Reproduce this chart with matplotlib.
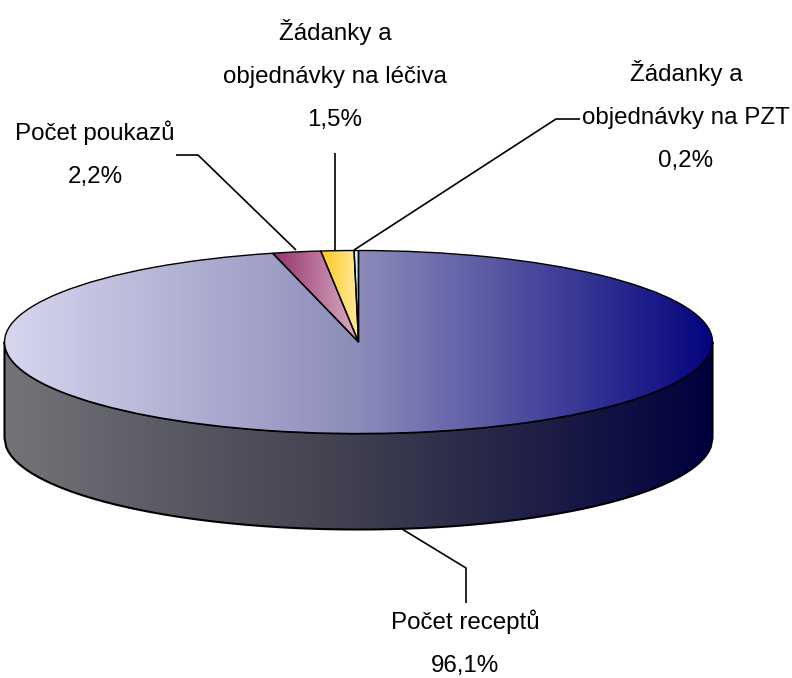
import numpy as np
import matplotlib
matplotlib.use("Agg")
import matplotlib.pyplot as plt
from matplotlib.colors import LinearSegmentedColormap
from matplotlib.patches import PathPatch
from matplotlib.path import Path

# Data
categories = ["Počet receptů", "Počet poukazů", "Žádanky a\nobjednávky na léčiva", "Žádanky a\nobjednávky na PZT"]
values = [96.1, 2.2, 1.5, 0.2]
gradients = [
    ["#D6D6EE", "#8C8CBA", "#04047F"],
    ["#96326A", "#D9B0C6"],
    ["#FFC81E", "#FFEBA0"],
    ["#D8FFFF", "#B0F0F8"],
]
side_gradient = ["#737378", "#3E3E4E", "#00003E"]

W, H = 792, 678
CX, CY, RX, RY, DEPTH = 358.5, 342.0, 354.0, 91.5, 96.0
FONT = ["Liberation Sans", "DejaVu Sans"]
FS = 17.4

fig = plt.figure(figsize=(W / 100, H / 100), dpi=100, facecolor="white")

# Pie axes: the unit circle is squashed into the perspective ellipse
ax = fig.add_axes([0, 0, 1, 1])
wedges, _ = ax.pie(values, startangle=90, counterclock=False, radius=1, center=(0, 0),
                   wedgeprops=dict(facecolor="none", edgecolor="black", linewidth=1.0, zorder=5))
ax.set_aspect("auto")
ax.set_xlim(-CX / RX, (W - CX) / RX)
ax.set_ylim((CY - H) / RY, CY / RY)
ax.axis("off")

def grad_fill(colors, x0, x1, y0, y1, clip, zorder):
    cmap = LinearSegmentedColormap.from_list("g", colors)
    im = ax.imshow(np.linspace(0, 1, 512)[None, :], cmap=cmap, extent=[x0, x1, y0, y1],
                   aspect="auto", interpolation="bilinear", zorder=zorder, origin="lower")
    im.set_clip_path(clip)
    return im

# Side wall
d = DEPTH / RY
xs = np.linspace(-1, 1, 400)
low = -np.sqrt(1 - xs ** 2)
verts = np.vstack([np.c_[xs, low], np.c_[xs[::-1], low[::-1] - d], [[xs[0], low[0]]]])
codes = [Path.MOVETO] + [Path.LINETO] * (len(verts) - 2) + [Path.CLOSEPOLY]
side = PathPatch(Path(verts, codes), facecolor="none", edgecolor="black", linewidth=1.5, zorder=3, joinstyle="round")
ax.add_patch(side)
grad_fill(side_gradient, -1, 1, -1 - d, 0.05, side, 2)

# Top slices, gradient spans each slice's own bounding box
for w, cols in zip(wedges, gradients):
    bb = w.get_path().transformed(w.get_patch_transform()).get_extents()
    grad_fill(cols, bb.x0, bb.x1, bb.y0, bb.y1, w, 4)

ax.set_xlim(-CX / RX, (W - CX) / RX)
ax.set_ylim((CY - H) / RY, CY / RY)

# Overlay in pixel coordinates for labels and leader lines
ov = fig.add_axes([0, 0, 1, 1], facecolor="none")
ov.set_xlim(0, W)
ov.set_ylim(H, 0)
ov.axis("off")

label_pos = [(465, 643), (95, 154), (335, 75), (686, 116)]
leaders = [
    [(402, 529), (466, 568), (466, 603)],
    [(176, 155), (198, 155), (296, 250)],
    [(335, 153), (335, 250)],
    [(580, 119), (556, 119), (354, 250)],
]
for name, val, (tx, ty), ld in zip(categories, values, label_pos, leaders):
    txt = f"{name}\n{val:.1f}%".replace(".", ",")
    ov.text(tx, ty, txt, ha="center", va="center", fontsize=FS, family=FONT,
            color="black", linespacing=2.24, multialignment="center")
    pts = np.array(ld)
    ov.plot(pts[:, 0], pts[:, 1], color="black", lw=1.2, solid_capstyle="butt", zorder=6)

fig.savefig("out.png", dpi=100, facecolor="white")
